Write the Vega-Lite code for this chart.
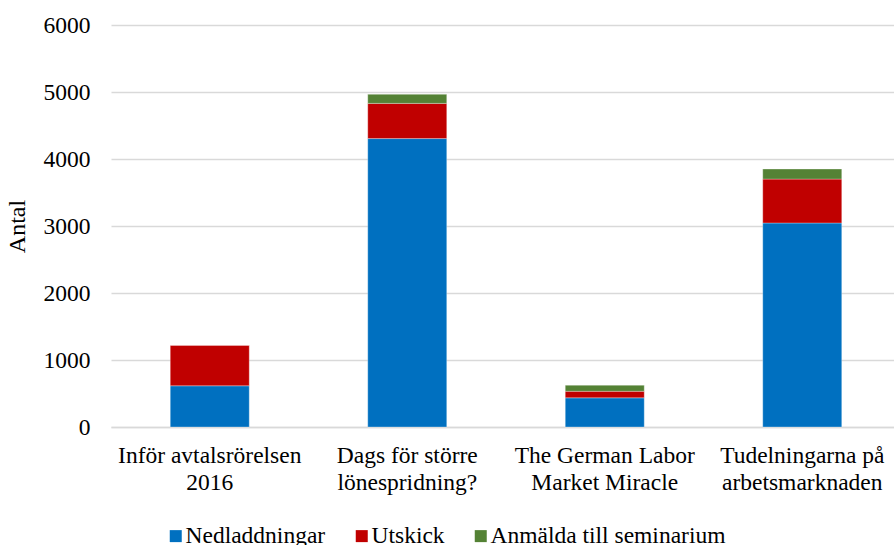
{
  "$schema": "https://vega.github.io/schema/vega-lite/v6.json",
  "autosize": {"type": "none"},
  "padding": {"left": 111, "top": 25, "right": 0, "bottom": 118},
  "width": 790,
  "height": 402,
  "background": "white",
  "config": {
    "font": "Liberation Serif",
    "view": {"stroke": null},
    "axis": {"labelFont": "Liberation Serif", "titleFont": "Liberation Serif", "labelColor": "#000000", "titleColor": "#000000"},
    "legend": {"labelFont": "Liberation Serif", "labelColor": "#000000"}
  },
  "data": {
    "values": [
      {"artikel": "Inför avtalsrörelsen 2016", "serie": "Nedladdningar", "ordning": 1, "antal": 615},
      {"artikel": "Inför avtalsrörelsen 2016", "serie": "Utskick", "ordning": 2, "antal": 605},
      {"artikel": "Inför avtalsrörelsen 2016", "serie": "Anmälda till seminarium", "ordning": 3, "antal": 0},
      {"artikel": "Dags för större lönespridning?", "serie": "Nedladdningar", "ordning": 1, "antal": 4305},
      {"artikel": "Dags för större lönespridning?", "serie": "Utskick", "ordning": 2, "antal": 525},
      {"artikel": "Dags för större lönespridning?", "serie": "Anmälda till seminarium", "ordning": 3, "antal": 135},
      {"artikel": "The German Labor Market Miracle", "serie": "Nedladdningar", "ordning": 1, "antal": 435},
      {"artikel": "The German Labor Market Miracle", "serie": "Utskick", "ordning": 2, "antal": 98},
      {"artikel": "The German Labor Market Miracle", "serie": "Anmälda till seminarium", "ordning": 3, "antal": 90},
      {"artikel": "Tudelningarna på arbetsmarknaden", "serie": "Nedladdningar", "ordning": 1, "antal": 3045},
      {"artikel": "Tudelningarna på arbetsmarknaden", "serie": "Utskick", "ordning": 2, "antal": 655},
      {"artikel": "Tudelningarna på arbetsmarknaden", "serie": "Anmälda till seminarium", "ordning": 3, "antal": 150}
    ]
  },
  "mark": {"type": "bar", "stroke": "white", "strokeWidth": 0.5, "strokeOpacity": 0.6},
  "encoding": {
    "x": {
      "field": "artikel",
      "type": "nominal",
      "sort": null,
      "scale": {"paddingInner": 0.6, "paddingOuter": 0.3},
      "axis": {
        "title": null,
        "labelAngle": 0,
        "labelFontSize": 23.5,
        "labelPadding": 16,
        "labelLineHeight": 27,
        "labelBaseline": "top",
        "labelLimit": 0,
        "labelOverlap": false,
        "ticks": false,
        "domainColor": "#D9D9D9",
        "domainWidth": 1.5,
        "labelExpr": "datum.value == 'Inför avtalsrörelsen 2016' ? ['Inför avtalsrörelsen', '2016'] : datum.value == 'Dags för större lönespridning?' ? ['Dags för större', 'lönespridning?'] : datum.value == 'The German Labor Market Miracle' ? ['The German Labor', 'Market Miracle'] : ['Tudelningarna på', 'arbetsmarknaden']"
      }
    },
    "y": {
      "field": "antal",
      "type": "quantitative",
      "stack": "zero",
      "scale": {"domain": [0, 6000], "nice": false},
      "axis": {
        "title": "Antal",
        "titleFontSize": 24,
        "titleFontWeight": "normal",
        "titlePadding": 14,
        "labelFontSize": 23.5,
        "labelPadding": 21,
        "format": "d",
        "labelOverlap": false,
        "values": [0, 1000, 2000, 3000, 4000, 5000, 6000],
        "ticks": false,
        "domain": false,
        "gridColor": "#D9D9D9",
        "gridWidth": 1.5
      }
    },
    "color": {
      "field": "serie",
      "type": "nominal",
      "scale": {
        "domain": ["Nedladdningar", "Utskick", "Anmälda till seminarium"],
        "range": ["#0070C0", "#C00000", "#548235"]
      },
      "legend": {
        "title": null,
        "orient": "none",
        "direction": "horizontal",
        "legendX": 53,
        "legendY": 499,
        "symbolType": "square",
        "symbolSize": 144,
        "symbolStrokeWidth": 0,
        "labelFontSize": 23.5,
        "labelFont": "Liberation Serif",
        "labelLimit": 0,
        "labelOffset": -2,
        "columnPadding": 24
      }
    },
    "order": {"field": "ordning", "type": "quantitative", "sort": "ascending"}
  }
}
